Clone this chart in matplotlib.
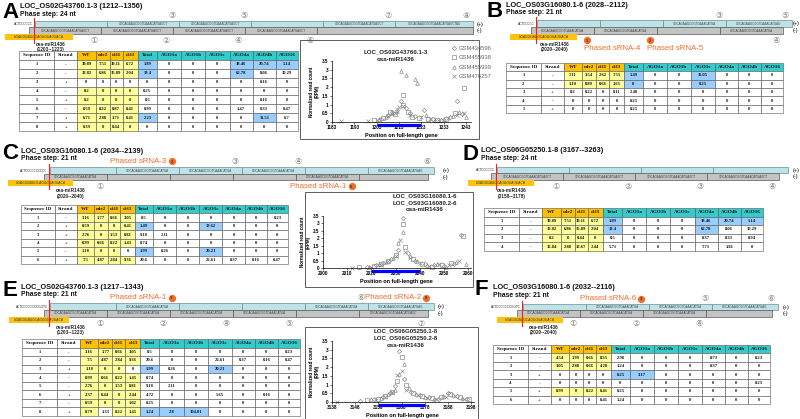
import matplotlib
matplotlib.use('Agg')
import matplotlib.pyplot as plt
from matplotlib.patches import Rectangle
from matplotlib.ticker import FuncFormatter

W, H = 800, 419
SANS = ['Liberation Sans', 'DejaVu Sans']
SERIF = ['Liberation Serif', 'DejaVu Serif']
CIRC = ['DejaVu Sans', 'Noto Sans CJK JP']

# ---------------- data ----------------
COLS = ['Sequence ID', 'Strand', 'WT', 'rdr2', 'dcl1', 'dcl3', 'Total',
        'AGO1a', 'AGO1b', 'AGO1c', 'AGO4a', 'AGO4b', 'AGO16']

A_strand = ['-', '-', '+', '-', '+', '-', '+', '+']
A_rows = [[39.89, 7.51, 39.11, 6.72, 1.89, 0, 0, 0, 18.46, 20.74, 5.14],
          [13.82, 6.86, 15.89, 2.04, 13.4, 0, 0, 0, 62.78, 8.06, 10.29],
          [0, 0, 0, 0, 0, 0, 0, 0, 0, 0.16, 0],
          [0.2, 0, 0, 0, 0.25, 0, 0, 0, 0, 0, 0],
          [0.2, 0, 0, 0, 0.5, 0, 0, 0, 0, 0.16, 0],
          [0.59, 0.22, 0.87, 0.41, 0.99, 0, 0, 0, 1.47, 0.33, 0.47],
          [6.71, 2.88, 3.71, 0.41, 2.23, 0, 0, 0, 0, 11.51, 6.7],
          [0.39, 0, 0.44, 0, 0, 0, 0, 0, 0, 0, 0]]
A_yellow = ['1111', '1111', '0000', '1111', '1111', '1111', '1111', '1111']
A_blue = [(1, 'Total'), (1, 'AGO4a'), (1, 'AGO4b'), (1, 'AGO16'), (2, 'Total'),
          (2, 'AGO4a'), (7, 'Total'), (7, 'AGO4b')]

B_strand = ['-', '-', '+', '-', '+']
B_rows = [[7.11, 3.54, 2.62, 7.55, 1.49, 0, 0, 11.05, 0, 0, 0],
          [1.18, 0.89, 0.66, 1.65, 0, 0, 0, 0.25, 0, 0, 0],
          [0.2, 0.22, 0, 0.11, 2.48, 0, 0, 0, 0, 0, 0],
          [0, 0, 0, 0, 0.25, 0, 0, 0, 0, 0, 0],
          [0, 0, 0, 0, 0.25, 0, 0, 0, 0, 0, 0]]
B_yellow = ['1111', '1111', '0000', '0000', '0000']
B_blue = [(1, 'Total'), (1, 'AGO1c'), (2, 'Total'), (2, 'AGO1c')]

C_strand = ['-', '+', '+', '+', '-', '+']
C_rows = [[3.16, 1.77, 0.66, 3.05, 0.5, 0, 0, 0, 0, 0, 0.23],
          [0.59, 0, 0, 0.41, 1.49, 0, 0, 13.62, 0, 0, 0],
          [2.76, 0, 1.53, 0.81, 9.18, 2.11, 0, 0, 0, 0, 0],
          [0.99, 0.66, 0.22, 1.43, 0.74, 0, 0, 0, 0, 0, 0],
          [1.18, 0, 0, 0, 1.99, 0.26, 0, 20.21, 0, 0, 0],
          [7.5, 4.87, 2.84, 9.36, 20.6, 0, 0, 22.61, 0.37, 0.16, 0.47]]
C_yellow = ['1111', '1111', '1111', '1111', '1110', '1111']
C_blue = [(2, 'Total'), (2, 'AGO1c'), (5, 'Total'), (5, 'AGO1c')]

D_strand = ['-', '-', '-', '-']
D_rows = [[39.89, 7.51, 39.11, 6.72, 1.89, 0, 0, 0, 18.46, 20.74, 5.14],
          [13.82, 6.86, 15.89, 2.04, 13.4, 0, 0, 0, 62.78, 8.06, 10.29],
          [0.2, 0, 0.44, 0, 0.5, 0, 0, 0, 0.37, 0.33, 0.94],
          [12.84, 2.88, 12.67, 2.44, 5.71, 0, 0, 0, 7.71, 1.81, 0]]
D_yellow = ['1111', '1111', '1111', '1111']
D_blue = [(1, 'Total'), (1, 'AGO4a'), (1, 'AGO4b'), (1, 'AGO16'), (2, 'Total'), (2, 'AGO4a')]

E_strand = ['-', '-', '+', '-', '-', '+', '-', '+']
E_rows = [[3.16, 1.77, 0.66, 3.05, 0.5, 0, 0, 0, 0, 0, 0.23],
          [7.5, 4.87, 2.84, 9.36, 20.6, 0, 0, 22.61, 0.37, 0.16, 0.47],
          [1.18, 0, 0, 0, 1.99, 0.26, 0, 20.21, 0, 0, 0],
          [0.99, 0.66, 0.22, 1.45, 0.74, 0, 0, 0, 0, 0, 0],
          [2.76, 0, 1.53, 0.81, 9.18, 2.11, 0, 0, 0, 0, 0],
          [2.37, 0.44, 0, 2.44, 4.72, 0, 0, 5.65, 0, 0.16, 0],
          [0.59, 0, 0, 1.02, 0.25, 0, 0, 0, 0, 0, 0],
          [0.79, 1.33, 0.22, 1.45, 1.24, 2.8, 104.01, 0, 0, 0, 0]]
E_yellow = ['1111', '1111', '1110', '1111', '1111', '1111', '1111', '1011']
E_blue = [(3, 'Total'), (3, 'AGO1c'), (8, 'Total'), (8, 'AGO1a'), (8, 'AGO1b')]

F_strand = ['-', '-', '+', '-', '+', '+']
F_rows = [[4.54, 1.99, 0.66, 8.35, 2.98, 0, 0, 0, 0.73, 0, 0.23],
          [3.05, 2.88, 0.66, 4.28, 1.24, 0, 0, 0, 0.37, 0, 0],
          [0, 0, 0, 0, 0.25, 3.17, 0, 0, 0, 0, 0],
          [0, 0, 0, 0, 0, 0, 0, 0, 0, 0, 0.23],
          [0.99, 0, 0.22, 0.41, 0.25, 0, 0, 0, 0, 0, 0],
          [0, 0, 0, 0.41, 1.24, 0, 0, 0, 0, 0, 0]]
F_yellow = ['1111', '1111', '0000', '0000', '1111', '0000']
F_blue = [(3, 'Total'), (3, 'AGO1a')]

# titles
LETTERS = ['A', 'B', 'C', 'D', 'E', 'F']
TITLES = ['LOC_OS02G43760.1-3 (1212--1356)', 'LOC_OS03G16080.1-6 (2028--2112)',
          'LOC_OS03G16080.1-6 (2034--2139)', 'LOC_OS06G05250.1-8 (3167--3263)',
          'LOC_OS02G43760.1-3 (1217--1343)', 'LOC_OS03G16080.1-6 (2032--2116)']
PHASE = ['Phase step: 24 nt', 'Phase step: 21 nt', 'Phase step: 21 nt',
         'Phase step: 24 nt', 'Phase step: 21 nt', 'Phase step: 21 nt']

# phasing diagrams: (start nt, end nt, sequence number or None)
A_plus = [(1212, 1236, None), (1236, 1260, 3), (1260, 1284, 5), (1284, 1308, None), (1308, 1332, 7), (1332, 1358, 8)]
A_minus = [(1210, 1234, 1), (1234, 1258, 2), (1258, 1282, 4), (1282, 1306, 6), (1306, 1358, None)]
B_plus = [(2028, 2049, None), (2049, 2070, None), (2070, 2091, 3), (2091, 2113, 5)]
B_minus = [(2026, 2047, 1), (2047, 2068, 2), (2068, 2089, None), (2089, 2110, 4)]
C_plus = [(2034, 2056, None), (2056, 2077, 2), (2077, 2098, 3), (2098, 2119, 4), (2119, 2140, None), (2140, 2162, 6)]
C_minus = [(2032, 2053, 1), (2053, 2074, None), (2074, 2095, None), (2095, 2116, None), (2116, 2137, 5), (2137, 2160, None)]
D_plus = [(3167, 3191, None), (3191, 3215, None), (3215, 3239, None), (3239, 3264, None)]
D_minus = [(3165, 3189, 1), (3189, 3213, 2), (3213, 3237, 3), (3237, 3261, 4)]
E_plus = [(1217, 1239, None), (1239, 1260, 3), (1260, 1281, None), (1281, 1302, None), (1302, 1323, 6), (1323, 1345, 8)]
E_minus = [(1215, 1236, 1), (1236, 1257, 2), (1257, 1278, 4), (1278, 1299, 5), (1299, 1320, None), (1320, 1343, 7)]
F_plus = [(2032, 2053, None), (2053, 2074, 3), (2074, 2095, 5), (2095, 2117, 6)]
F_minus = [(2030, 2051, 1), (2051, 2072, 2), (2072, 2093, 4), (2093, 2115, None)]

B_phased = {1: 'Phased sRNA-4', 2: 'Phased sRNA-5'}
C_phased = {2: 'Phased sRNA-3', 5: 'Phased sRNA-1'}
E_phased = {3: 'Phased sRNA-1', 8: 'Phased sRNA-2'}
F_phased = {3: 'Phased sRNA-6'}

MIR_NAME = 'osa-miR1436'
MIR_SEQ = 'UGAGGGAGGCAGGGUAUUACA'
A_mir, A_mir_lab = (1202, 1224.7), '(1203--1223)'
B_mir, B_mir_lab = (2019, 2041.3), '(2020--2040)'
C_mir, C_mir_lab = (2020, 2041.7), '(2020--2040)'
D_mir, D_mir_lab = (3157.3, 3179.3), '(3158--3178)'
E_mir, E_mir_lab = (1203.3, 1223.3), '(1203--1223)'
F_mir, F_mir_lab = (2023.3, 2045.3), '(2020--2040)'
FLANKS = ['ACTCCCCCC', 'ACTCCCCC', 'ACTCCCCCCCCCC', 'ACTCCCCCC', 'ACTCCCCCCCCGGTC', 'ACTCCCCCCCGGTC']
SEQ = 'GGCAGAAGCGGTCAAACATGAGCTAGCAT'

# scatter plots
SAMPLES = ['GSM434596', 'GSM455938', 'GSM455939', 'GSM476257']
A_pos = [[1205, 1208, 1210, 1212, 1214, 1216, 1218, 1220, 1224, 1228, 1232, 1236, 1239, 1241],
         [1202, 1206, 1209, 1211, 1215, 1215, 1217, 1219, 1222, 1226, 1230, 1234, 1238, 1242],
         [1204, 1207, 1210, 1212, 1214, 1216, 1220, 1221, 1225, 1229, 1233, 1237, 1240, 1243],
         [1187, 1199, 1203, 1208, 1211, 1213, 1215, 1218, 1223, 1227, 1231, 1235, 1239, 1242]]
A_val = [[0.15, 0.4, 0.55, 0.7, 1.2, 0.8, 0.5, 0.35, 0.7, 0.2, 0.1, 0.3, 1.2, 0.45],
         [0.1, 0.25, 0.6, 0.45, 1.55, 1.0, 0.6, 0.3, 0.25, 0.15, 0.1, 0.2, 0.5, 1.95],
         [0.2, 0.3, 0.5, 0.65, 2.9, 2.7, 2.45, 2.25, 0.4, 0.1, 0.15, 0.35, 0.6, 0.3],
         [0.05, 0.05, 0.1, 0.35, 0.5, 0.85, 0.9, 0.4, 0.3, 0.15, 0.05, 0.25, 0.4, 0.5]]
C_pos = [[2018, 2022, 2025, 2028, 2031, 2033, 2035, 2038, 2042, 2046, 2050, 2054, 2057],
         [2015, 2021, 2024, 2027, 2030, 2033, 2034, 2037, 2041, 2045, 2049, 2053, 2058],
         [2019, 2023, 2026, 2029, 2031, 2033, 2036, 2039, 2043, 2047, 2051, 2055, 2059],
         [2012, 2020, 2024, 2027, 2030, 2032, 2034, 2036, 2040, 2044, 2048, 2052, 2056]]
C_val = [[0.1, 0.2, 0.35, 0.6, 1.2, 3.35, 1.0, 0.5, 0.3, 0.2, 0.15, 0.3, 2.2],
         [0.05, 0.15, 0.3, 0.5, 0.9, 2.95, 1.4, 0.6, 0.25, 0.1, 0.2, 0.35, 2.15],
         [0.1, 0.25, 0.4, 0.7, 1.7, 2.4, 0.8, 0.45, 0.2, 0.3, 0.1, 0.4, 0.3],
         [0.02, 0.1, 0.2, 0.45, 0.8, 1.9, 1.1, 0.7, 0.35, 0.15, 0.25, 0.2, 0.45]]
E_pos = [[3150, 3156, 3160, 3163, 3165, 3167, 3169, 3172, 3176, 3180, 3184, 3188, 3192, 3196],
         [3153, 3158, 3161, 3164, 3166, 3168, 3170, 3173, 3177, 3181, 3185, 3189, 3193, 3197],
         [3155, 3159, 3162, 3165, 3167, 3169, 3171, 3174, 3178, 3182, 3186, 3190, 3194],
         [3140, 3157, 3161, 3164, 3166, 3168, 3170, 3175, 3179, 3183, 3187, 3191, 3195]]
E_val = [[0.05, 0.15, 0.3, 0.5, 0.9, 2.9, 1.3, 0.6, 0.4, 0.3, 0.2, 0.5, 0.35, 0.2],
         [0.1, 0.2, 0.35, 0.6, 1.2, 2.6, 1.0, 0.5, 0.35, 0.25, 0.3, 0.45, 0.3, 0.15],
         [0.15, 0.25, 0.45, 0.7, 1.6, 2.2, 0.8, 0.45, 0.3, 0.2, 0.35, 0.4, 0.25],
         [0.02, 0.1, 0.3, 0.55, 1.55, 1.8, 0.7, 0.4, 0.25, 0.15, 0.3, 0.35, 0.2]]
A_ticks = [1183, 1193, 1203, 1213, 1223, 1233, 1243]
C_ticks = [2000, 2010, 2020, 2030, 2040, 2050, 2060]
E_ticks = [3138, 3148, 3158, 3168, 3178, 3188, 3198]
Y_TICKS = [0, 0.5, 1, 1.5, 2, 2.5, 3, 3.5]
A_sc_titles = ['LOC_OS02G43760.1-3', 'osa-miR1436']
C_sc_titles = ['LOC_OS03G16080.1-6', 'LOC_OS03G16080.2-6', 'osa-miR1436']
E_sc_titles = ['LOC_OS06G05250.1-8', 'LOC_OS06G05250.2-8', 'osa-miR1436']
A_sc_mir = (1203, 1223)
C_sc_mir = (2020, 2040)
E_sc_mir = (3158, 3178)

# ---------------- style ----------------
PLUS_FC, PLUS_EC = '#bde3e8', '#708c90'
MINUS_FC, MINUS_EC = '#c3c3c3', '#5a5a5a'
MIR_FC = '#ffc20e'
ORANGE = '#f26d2a'
HDR_Y, HDR_T, CELL_Y, CELL_B = '#ffc000', '#33cccc', '#ffff99', '#99ccff'
MK_GRAY = '#8c8c8c'
CIRCLED = '①②③④⑤⑥⑦⑧'
MARKERS = ['D', 's', '^', 'x']
MSIZE = [2.2, 2.3, 2.6, 2.6]
COL_W = [35, 23, 18, 14, 13, 15, 19, 24, 24, 24, 23, 23, 22]

fig = plt.figure(figsize=(W / 100, H / 100), dpi=100)
fig.patch.set_facecolor('white')


def frac(x0, y0, x1, y1):
    return [x0 / W, 1 - y1 / H, (x1 - x0) / W, (y1 - y0) / H]


ov = fig.add_axes([0, 0, 1, 1], zorder=20)
ov.set_xlim(0, W)
ov.set_ylim(H, 0)
ov.axis('off')

# ---------------- headers ----------------
LETTER_POS = [(2, 18), (487, 17), (2, 159), (463, 160), (2, 296), (474, 295)]
TITLE_POS = [(20, 7.5, 15.5), (506, 7, 14.5), (21, 152.5, 160), (481, 152, 159.5),
             (21, 288.5, 296), (493, 288.5, 296.5)]
for k in range(6):
    lx, ly = LETTER_POS[k]
    ov.text(lx, ly, LETTERS[k], fontsize=16, fontweight='bold', family=SANS, va='baseline', ha='left')
    tx, t1, t2 = TITLE_POS[k]
    ov.text(tx, t1, TITLES[k], fontsize=5.3, fontweight='bold', family=SANS, va='baseline', color='#111111')
    ov.text(tx, t2, PHASE[k], fontsize=4.9, fontweight='bold', family=SANS, va='baseline', color='#111111')


# ---------------- diagrams ----------------
def draw_diagram(X0, N0, plus, minus, yp, ym, flank, mir, mir_lab, mir_lab_x, pm_x,
                 phased=None, stack=False):
    ax = fig.add_axes([0, 0, 1, 1], zorder=5)
    ax.set_xlim(N0 - X0 / 3.0, N0 + (W - X0) / 3.0)
    ax.set_ylim(H, 0)
    ax.axis('off')
    phased = phased or {}
    for segs, (y0, y1), fc, ec, top in ((plus, yp, PLUS_FC, PLUS_EC, True),
                                         (minus, ym, MINUS_FC, MINUS_EC, False)):
        for s, e, n in segs:
            ax.add_patch(Rectangle((s, y0), e - s, y1 - y0, fc=fc, ec=ec, lw=0.5))
            if n is None:
                continue
            ax.text((s + e) / 2, (y0 + y1) / 2 + 0.2, SEQ[:int(e - s)], fontsize=2.2,
                    family='DejaVu Sans', ha='center', va='center', color='#444444')
            lx = e - 2.5
            ly = y0 - 5.5 if top else y1 + 6.5
            if n in phased:
                ax.plot([lx], [ly], marker='o', ms=4.2, mfc=ORANGE, mec=ORANGE, clip_on=False)
                ax.text(lx, ly + 0.3, str(n), fontsize=3.0, fontweight='bold', ha='center',
                        va='center', color='#6a1f00', family=SANS)
                if stack:
                    ax.text(lx - 1.0, ly + 8.5, phased[n], fontsize=5.7, color=ORANGE,
                            family=SANS, ha='left', va='center')
                else:
                    ax.text(lx - 1.8, ly, phased[n], fontsize=5.7, color=ORANGE,
                            family=SANS, ha='right', va='center')
            else:
                ax.text(lx, ly, CIRCLED[n - 1], fontsize=5.8, family=CIRC, ha='center',
                        va='center', color='#7a7a7a')
    ps = plus[0][0]
    ax.text(ps - 0.8, (yp[0] + yp[1]) / 2, flank, fontsize=2.3, family='DejaVu Sans',
            ha='right', va='center', color='#333333')
    # miRNA box
    ax.add_patch(Rectangle((mir[0], ym[1] + 0.3), mir[1] - mir[0], 5.8, fc=MIR_FC, ec='none', zorder=1))
    ax.text((mir[0] + mir[1]) / 2, ym[1] + 3.3, MIR_SEQ, fontsize=2.3, style='italic',
            family='DejaVu Sans', ha='center', va='center', color='#333333')
    ax.plot([ps - 0.3, ps - 0.3], [yp[0] - 3, ym[1] + 9], color='#ff1a1a', lw=0.8, zorder=6)
    ax.text(mir_lab_x, ym[1] + 10.5, MIR_NAME, fontsize=3.4, fontweight='bold', family=SANS,
            ha='center', va='center', color='#222222')
    ax.text(mir_lab_x, ym[1] + 16, mir_lab, fontsize=3.4, fontweight='bold', family=SANS,
            ha='center', va='center', color='#222222')
    ov.text(pm_x, (yp[0] + yp[1]) / 2, '(+)', fontsize=4, family=SANS, ha='left', va='center')
    ov.text(pm_x, (ym[0] + ym[1]) / 2, '(-)', fontsize=4, family=SANS, ha='left', va='center')


draw_diagram(35, 1212, A_plus, A_minus, (21, 27.5), (27.5, 34), FLANKS[0], A_mir, A_mir_lab, 1217.3, 477)
draw_diagram(537, 2028, B_plus, B_minus, (20.5, 27.5), (27.5, 34), FLANKS[1], B_mir, B_mir_lab, 2034, 793,
             B_phased, stack=True)
draw_diagram(50, 2034, C_plus, C_minus, (167, 174), (174, 180), FLANKS[2], C_mir, C_mir_lab, 2041, 443,
             C_phased)
draw_diagram(497, 3167, D_plus, D_minus, (167, 173.5), (173.5, 180), FLANKS[3], D_mir, D_mir_lab, 3172, 793)
draw_diagram(50, 1217, E_plus, E_minus, (303, 310), (310, 316.5), FLANKS[4], E_mir, E_mir_lab, 1224, 438,
             E_phased)
draw_diagram(523, 2032, F_plus, F_minus, (304, 310), (310, 316.5), FLANKS[5], F_mir, F_mir_lab, 2039, 783,
             F_phased)


# ---------------- tables ----------------
def fmt(v):
    return '{:g}'.format(v)


def draw_table(box, strands, rows, yellow, blue):
    ax = fig.add_axes(frac(*box), zorder=8)
    ax.axis('off')
    text = [[str(i + 1), s] + [fmt(v) for v in r] for i, (s, r) in enumerate(zip(strands, rows))]
    tw = float(sum(COL_W))
    tbl = ax.table(cellText=text, colLabels=COLS, colWidths=[w / tw for w in COL_W],
                   cellLoc='center', bbox=[0, 0, 1, 1])
    tbl.auto_set_font_size(False)
    blue_set = set((r, COLS.index(c)) for r, c in blue)
    for (r, c), cell in tbl.get_celld().items():
        cell.set_linewidth(0.4)
        cell.set_edgecolor('#555555')
        t = cell.get_text()
        t.set_family(SERIF)
        t.set_color('#111111')
        t.set_fontweight('bold')
        if r == 0:
            t.set_fontsize(3.7)
            fc = HDR_Y if 2 <= c <= 5 else (HDR_T if c >= 6 else 'white')
        else:
            t.set_fontsize(3.3)
            fc = 'white'
            if 2 <= c <= 5 and yellow[r - 1][c - 2] == '1':
                fc = CELL_Y
            if (r, c) in blue_set:
                fc = CELL_B
        cell.set_facecolor(fc)


draw_table((19, 51, 298, 131), A_strand, A_rows, A_yellow, A_blue)
draw_table((506, 63, 783, 113), B_strand, B_rows, B_yellow, B_blue)
draw_table((21, 205, 288, 264), C_strand, C_rows, C_yellow, C_blue)
draw_table((484, 208, 763, 251), D_strand, D_rows, D_yellow, D_blue)
draw_table((22, 339, 300, 416), E_strand, E_rows, E_yellow, E_blue)
draw_table((493, 345, 770, 404), F_strand, F_rows, F_yellow, F_blue)


# ---------------- scatter plots ----------------
def draw_scatter(box, axbox, xlim, xticks, pos, val, mir, titles, tx, tys, legend=False):
    ov.add_patch(Rectangle((box[0], box[1]), box[2] - box[0], box[3] - box[1],
                           fill=False, ec='#444444', lw=0.6))
    ax = fig.add_axes(frac(*axbox), zorder=9)
    ax.set_facecolor('none')
    handles = []
    for i in range(4):
        h, = ax.plot(pos[i], val[i], linestyle='none', marker=MARKERS[i], ms=MSIZE[i],
                     mfc='none', mec=MK_GRAY, mew=0.5, clip_on=False)
        handles.append(h)
    ax.set_xlim(*xlim)
    ax.set_ylim(0, 3.5)
    ax.set_xticks(xticks)
    ax.set_yticks(Y_TICKS)
    ax.yaxis.set_major_formatter(FuncFormatter(lambda v, p: '{:g}'.format(v)))
    for s in ('top', 'right'):
        ax.spines[s].set_visible(False)
    for s in ('left', 'bottom'):
        ax.spines[s].set_linewidth(0.5)
    ax.tick_params(length=1.5, width=0.4, labelsize=3.3, pad=1)
    for lab in ax.get_xticklabels() + ax.get_yticklabels():
        lab.set_family(SANS)
        lab.set_fontweight('bold')
    ax.set_ylabel('Normalized read count\n(RPM)', fontsize=3.3, fontweight='bold', family=SANS,
                  labelpad=2, linespacing=1.0)
    ax.set_xlabel('Position on full-length gene', fontsize=4.0, fontweight='bold', family=SANS,
                  labelpad=1.5)
    hpx = axbox[3] - axbox[1]
    ax.plot(mir, [-2.8 / hpx] * 2, transform=ax.get_xaxis_transform(), color='#0000ff', lw=2.3,
            solid_capstyle='butt', clip_on=False)
    for t, y in zip(titles, tys):
        ov.text(tx, y, t, fontsize=4.4, fontweight='bold', family=SANS, ha='center', va='center',
                color='#222222')
    if legend:
        lg = ax.legend(handles, SAMPLES, loc='upper left', bbox_to_anchor=(449 / W, 1 - 43 / H),
                       bbox_transform=fig.transFigure, frameon=False, prop={'family': SANS, 'size': 4.2},
                       handlelength=0.8, handletextpad=0.4, labelspacing=0.75, borderpad=0)
        for t in lg.get_texts():
            t.set_color('#666666')


draw_scatter((300, 40, 479, 139), (332, 61, 470.5, 122), (1183, 1245), A_ticks, A_pos, A_val,
             A_sc_mir, A_sc_titles, 396, [52, 59.5], legend=True)
draw_scatter((305, 192, 473, 287), (323, 216, 470.6, 268), (2000, 2061), C_ticks, C_pos, C_val,
             C_sc_mir, C_sc_titles, 425, [196, 202.5, 209])
draw_scatter((305, 327, 478, 419.5), (332, 341, 473.5, 402), (3138, 3199), E_ticks, E_pos, E_val,
             E_sc_mir, E_sc_titles, 406, [330.5, 337.5, 345])

fig.savefig('out.png', dpi=100, facecolor='white')
